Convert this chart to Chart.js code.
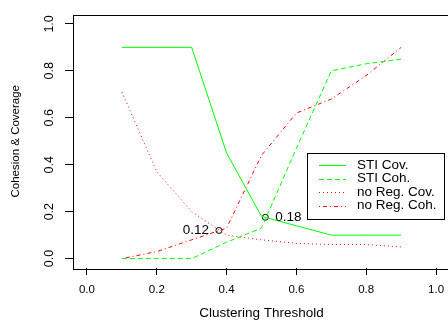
<!DOCTYPE html>
<html>
<head>
<meta charset="utf-8">
<script src="https://cdn.jsdelivr.net/npm/chart.js@4"></script>
<style>
  html, body { margin: 0; padding: 0; background: #fff; overflow: hidden; }
  #wrap { width: 460px; height: 325px; }
</style>
</head>
<body>
<div id="wrap"><canvas id="c" width="460" height="325"></canvas></div>
<script>
// Clustering thresholds on the x axis
const thresholds = [0.1, 0.2, 0.3, 0.4, 0.5, 0.6, 0.7, 0.8, 0.9];

// Series values
const stiCov   = [0.90, 0.90, 0.90, 0.45, 0.18, 0.14, 0.10, 0.10, 0.10];
const stiCoh   = [0.00, 0.00, 0.00, 0.07, 0.13, 0.47, 0.80, 0.83, 0.85];
const noRegCov = [0.71, 0.37, 0.20, 0.10, 0.08, 0.065, 0.06, 0.06, 0.05];
const noRegCoh = [0.00, 0.03, 0.08, 0.13, 0.44, 0.62, 0.68, 0.78, 0.90];

// Where coverage meets cohesion
const crossX = [0.378, 0.511];
const crossY = [0.12, 0.176];

// Axis ticks
const xTicks = [0, 0.2, 0.4, 0.6, 0.8, 1.0];
const yTicks = [0, 0.2, 0.4, 0.6, 0.8, 1.0];

const seriesNames = ['STI Cov.', 'STI Coh.', 'no Reg. Cov.', 'no Reg. Coh.'];

const GREEN = '#00ff00';
const RED = '#ff0000';
const FONT = '"Liberation Sans", Arial, Helvetica, sans-serif';

const pts = ys => thresholds.map((x, i) => ({ x, y: ys[i] }));

function lineSet(label, ys, color, dash) {
  return {
    label, data: pts(ys), borderColor: color, backgroundColor: color,
    borderWidth: 1, borderDash: dash, pointRadius: 0, tension: 0, fill: false
  };
}

// Plot frame, crossing labels and the legend
const extras = {
  id: 'extras',
  afterDatasetsDraw(chart, args, opts) {
    const { ctx, chartArea: a } = chart;
    ctx.save();
    ctx.strokeStyle = '#000';
    ctx.lineWidth = 1;
    ctx.setLineDash([]);
    ctx.strokeRect(Math.round(a.left) + 0.5, Math.round(a.top) + 0.5,
                   Math.round(a.right - a.left), Math.round(a.bottom - a.top));

    // crossing value labels
    const meta = chart.getDatasetMeta(4);
    ctx.fillStyle = '#000';
    ctx.font = '13.5px ' + FONT;
    ctx.textBaseline = 'middle';
    meta.data.forEach((p, i) => {
      const side = opts.sides[i];
      ctx.textAlign = side < 0 ? 'right' : 'left';
      ctx.fillText(crossY[i].toFixed(2), p.x + side * 10, p.y);
    });

    // legend
    const L = opts.legend;
    ctx.fillStyle = '#fff';
    ctx.fillRect(L.x, L.y, L.w, L.h);
    ctx.strokeStyle = '#000';
    ctx.strokeRect(L.x + 0.5, L.y + 0.5, L.w, L.h);
    ctx.font = '13.5px ' + FONT;
    ctx.textAlign = 'left';
    chart.data.datasets.slice(0, 4).forEach((ds, i) => {
      const y = L.y + L.first + i * L.step;
      ctx.strokeStyle = ds.borderColor;
      ctx.lineWidth = ds.borderWidth;
      ctx.setLineDash(ds.borderDash || []);
      ctx.beginPath();
      ctx.moveTo(L.x + 12, Math.round(y) + 0.5);
      ctx.lineTo(L.x + 39, Math.round(y) + 0.5);
      ctx.stroke();
      ctx.setLineDash([]);
      ctx.fillStyle = '#000';
      ctx.fillText(ds.label, L.x + 50, y);
    });
    ctx.restore();
  }
};

new Chart(document.getElementById('c'), {
  type: 'line',
  data: {
    datasets: [
      lineSet(seriesNames[0], stiCov, GREEN, []),
      lineSet(seriesNames[1], stiCoh, GREEN, [5, 3]),
      lineSet(seriesNames[2], noRegCov, RED, [1, 3]),
      lineSet(seriesNames[3], noRegCoh, RED, [1, 3, 4, 3]),
      {
        label: 'crossings',
        data: crossX.map((x, i) => ({ x, y: crossY[i] })),
        showLine: false, pointRadius: 3, pointHoverRadius: 3,
        pointBorderColor: '#000', pointBackgroundColor: 'rgba(0,0,0,0)',
        pointBorderWidth: 1
      }
    ]
  },
  options: {
    responsive: false,
    animation: false,
    events: [],
    layout: { padding: { top: 7, right: 10, left: 0, bottom: 0 } },
    plugins: {
      legend: { display: false },
      tooltip: { enabled: false },
      extras: {
        sides: [-1, 1],
        legend: { x: 307, y: 153, w: 137, h: 66, first: 12, step: 13.5 }
      }
    },
    scales: {
      x: {
        type: 'linear', min: -0.04, max: 1.04,
        afterBuildTicks: s => { s.ticks = xTicks.map(v => ({ value: v })); },
        afterFit: s => { s.height = 57; },
        border: { display: false },
        grid: { drawOnChartArea: false, drawTicks: true, tickLength: 7, tickColor: '#000' },
        ticks: {
          color: '#000', padding: 8, maxRotation: 0, minRotation: 0,
          font: { family: FONT, size: 11.5 },
          callback: v => v.toFixed(1)
        },
        title: {
          display: true, text: 'Clustering Threshold', color: '#000',
          font: { family: FONT, size: 13.5, lineHeight: 1 },
          padding: { top: 0, bottom: 5 }
        }
      },
      y: {
        type: 'linear', min: -0.04, max: 1.04,
        afterBuildTicks: s => { s.ticks = yTicks.map(v => ({ value: v })); },
        afterFit: s => { s.width = 73; },
        border: { display: false },
        grid: { drawOnChartArea: false, drawTicks: true, tickLength: 8, tickColor: '#000' },
        ticks: {
          color: '#000', padding: 7, minRotation: 90, maxRotation: 90,
          crossAlign: 'center',
          font: { family: FONT, size: 12.5 },
          callback: v => v.toFixed(1)
        },
        title: {
          display: true, text: 'Cohesion & Coverage', color: '#000',
          font: { family: FONT, size: 11.5, lineHeight: 1 },
          padding: { top: 10, bottom: 0 }
        }
      }
    }
  },
  plugins: [extras]
});
</script>
</body>
</html>
